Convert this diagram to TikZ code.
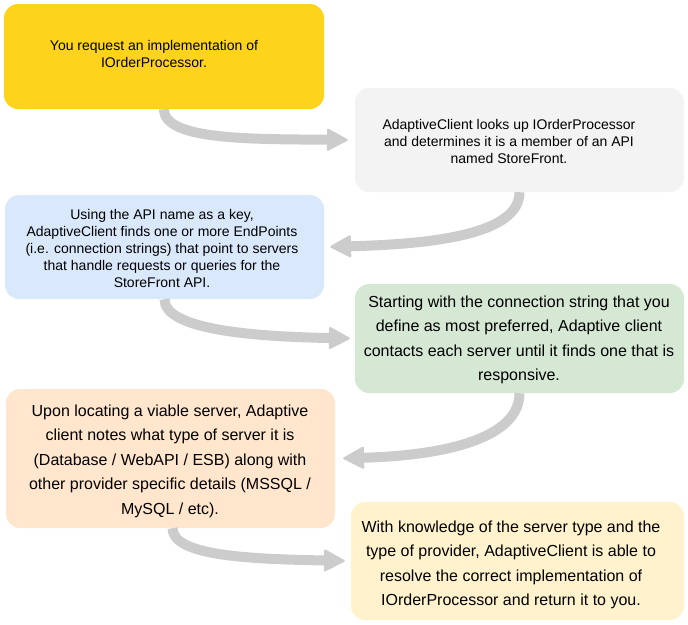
\documentclass[tikz,border=0pt]{standalone}
\usepackage{fontspec}
\setmainfont{Liberation Sans}
\usetikzlibrary{arrows.meta}
\definecolor{cyellow}{HTML}{FDD31B}
\definecolor{cgray}{HTML}{F3F3F3}
\definecolor{cblue}{HTML}{DAE8FC}
\definecolor{cgreen}{HTML}{D5E8D4}
\definecolor{cpeach}{HTML}{FFE6CC}
\definecolor{clight}{HTML}{FFF2CC}
\definecolor{flowgray}{HTML}{CCCCCC}
\begin{document}
\begin{tikzpicture}[x=1pt,y=-1pt,
  box/.style={draw=none,rounded corners=14pt,inner sep=0pt},
  small/.style={align=center,font=\fontsize{14}{17}\selectfont,inner sep=0pt},
  large/.style={align=center,font=\fontsize{16}{24.5}\selectfont,inner sep=0pt},
  flow/.style={draw=flowgray,line width=10pt,-{Triangle[width=23pt,length=22pt,line width=2pt,round]}}]
\useasboundingbox (0,0) rectangle (688,624);
\node[box,fill=cyellow,minimum width=320pt,minimum height=105pt] (b1) at (164,56.5) {};
\node[box,fill=cgray,minimum width=329pt,minimum height=104pt] (b2) at (519.5,140) {};
\node[box,fill=cblue,minimum width=319pt,minimum height=104pt] (b3) at (164.5,247) {};
\node[box,fill=cgreen,minimum width=329pt,minimum height=109pt] (b4) at (519.5,338.5) {};
\node[box,fill=cpeach,minimum width=329pt,minimum height=139pt] (b5) at (170.5,458.5) {};
\node[box,fill=clight,minimum width=333pt,minimum height=118pt] (b6) at (517.5,561) {};

\node[small] (t1) at (154,54) {You request an implementation of\\IOrderProcessor.};
\node[small] (t2) at (509,141) {AdaptiveClient looks up IOrderProcessor\\and determines it is a member of an API\\named StoreFront.};
\node[small] (t3) at (162,248) {Using the API name as a key,\\AdaptiveClient finds one or more EndPoints\\(i.e. connection strings) that point to servers\\that handle requests or queries for the\\StoreFront API.};
\node[large] (t4) at (519,340) {Starting with the connection string that you\\define as most preferred, Adaptive client\\contacts each server until it finds one that is\\responsive.};
\node[large] (t5) at (170,461) {Upon locating a viable server, Adaptive\\client notes what type of server it is\\(Database / WebAPI / ESB) along with\\other provider specific details (MSSQL /\\MySQL / etc).};
\node[large] (t6) at (511,565) {With knowledge of the server type and the\\type of provider, AdaptiveClient is able to\\resolve the correct implementation of\\IOrderProcessor and return it to you.};

\draw[flow,shorten >=7pt] (b1.south) .. controls +(0,31) and +(-105,-1) .. (b2.west);
\draw[flow,shorten >=6pt] (b2.south) .. controls +(0,42) and +(110,-3) .. (b3.east);
\draw[flow,shorten >=5pt] (b3.south) .. controls +(0,30) and +(-105,-2) .. (b4.west);
\draw[flow,shorten >=8pt] (b4.south) .. controls +(0,45) and +(110,-3) .. (b5.east);
\draw[flow,shorten >=6pt] ([xshift=2pt]b5.south) .. controls +(0,28) and +(-100,-2) .. (b6.west);
\end{tikzpicture}
\end{document}
